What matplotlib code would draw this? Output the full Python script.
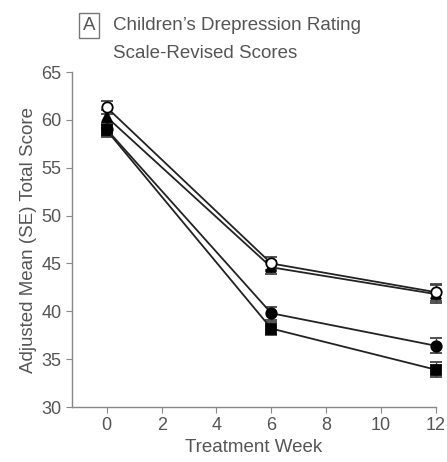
import matplotlib
matplotlib.use("Agg")
from matplotlib import pyplot as plt

plt.rcParams["font.family"] = ["Liberation Sans", "DejaVu Sans"]

weeks = [0, 6, 12]

# four treatment groups
open_circle = [61.3, 45.0, 42.0]
triangle = [60.3, 44.6, 41.8]
filled_circle = [59.0, 39.8, 36.4]
filled_square = [58.9, 38.2, 33.9]

se_open = [0.7, 0.7, 0.9]
se_tri = [0.7, 0.7, 0.9]
se_circ = [0.7, 0.7, 0.8]
se_sq = [0.7, 0.7, 0.8]

gray = "#555555"

fig = plt.figure(figsize=(4.47, 4.62), dpi=100)
ax = fig.add_axes([0.161, 0.119, 0.814, 0.725])

series = [
    (filled_square, se_sq, "s", "black"),
    (filled_circle, se_circ, "o", "black"),
    (triangle, se_tri, "^", "black"),
    (open_circle, se_open, "o", "white"),
]
for vals, se, mk, face in series:
    ax.errorbar(weeks, vals, yerr=se, color="#222222", lw=1.3, marker=mk,
                markersize=7.5, markerfacecolor=face, markeredgecolor="black",
                markeredgewidth=1.3, ecolor="#444444", elinewidth=1,
                capsize=4, capthick=1, clip_on=False, zorder=3)

ax.set_xlim(-1.27, 12)
ax.set_ylim(30, 65)
ax.set_xticks(range(0, 13, 2))
ax.set_yticks(range(30, 66, 5))
ax.spines["top"].set_visible(False)
ax.spines["right"].set_visible(False)
for s in ["left", "bottom"]:
    ax.spines[s].set_color("#888888")
    ax.spines[s].set_linewidth(1)
ax.tick_params(colors="#888888", labelcolor=gray, labelsize=13, length=4)

ax.set_xlabel("Treatment Week", fontsize=13.5, color=gray, labelpad=3)
ax.set_ylabel("Adjusted Mean (SE) Total Score", fontsize=13.5, color=gray,
              labelpad=3)

fig.text(0.199, 0.945, "A", fontsize=13.5, color=gray, ha="center", va="center",
         bbox=dict(boxstyle="square,pad=0.2", fc="white", ec="#777777", lw=1))
fig.text(0.253, 0.945, "Children\u2019s Drepression Rating", fontsize=13.5,
         color=gray, va="center")
fig.text(0.253, 0.885, "Scale-Revised Scores", fontsize=13.5,
         color=gray, va="center")

fig.savefig("out.png", dpi=100)
